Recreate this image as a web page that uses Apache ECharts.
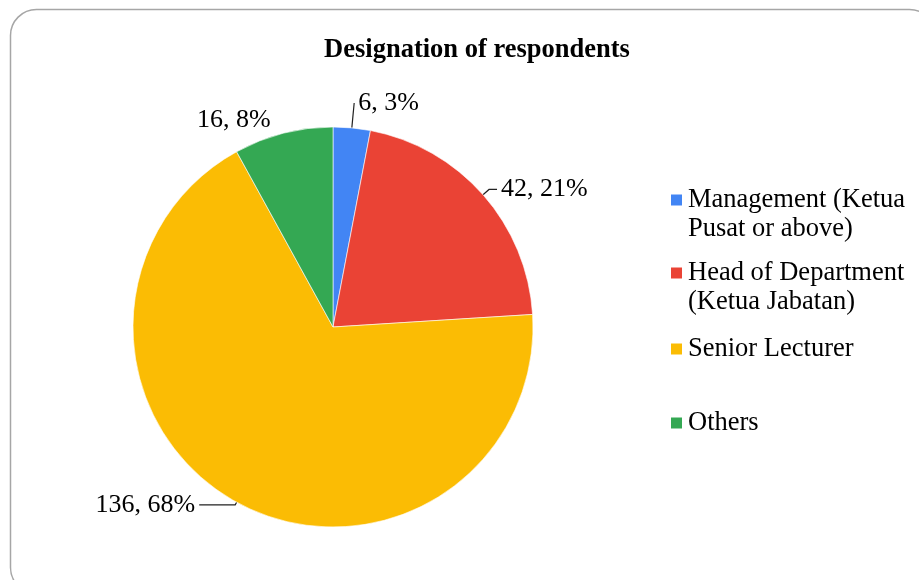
<!DOCTYPE html>
<html>
<head>
<meta charset="utf-8">
<script src="https://cdn.jsdelivr.net/npm/echarts@6/dist/echarts.min.js"></script>
<style>html,body{margin:0;padding:0;background:#fff;}#c{width:919px;height:580px;}</style>
</head>
<body>
<div id="c"></div>
<script>
const titleText = 'Designation of respondents';
const categories = ['Management (Ketua Pusat or above)', 'Head of Department (Ketua Jabatan)', 'Senior Lecturer', 'Others'];
const legendLabels = ['Management (Ketua\nPusat or above)', 'Head of Department\n(Ketua Jabatan)', 'Senior Lecturer', 'Others'];
const values = [6, 42, 136, 16];
const colors = ['#4285F4', '#EA4335', '#FBBC04', '#34A853'];

// label leader styling per slice (layout only)
const lineLen = [25, 8, 3, 14];
const lineLen2 = [0, 8, 36, 5];
const lineShow = [true, true, true, false];
const labelPadBottom = [18, 8, 12, 6];
const legendTops = [156.5, 229.5, 334.5, 408.5];

const FONT = 'Liberation Serif';
const chart = echarts.init(document.getElementById('c'), null, {renderer: 'canvas'});

const data = categories.map((name, i) => ({
  name: name,
  value: values[i],
  itemStyle: {color: colors[i]},
  label: {padding: [0, 0, labelPadBottom[i], 0]},
  labelLine: {show: lineShow[i], length: lineLen[i], length2: lineLen2[i]}
}));

const legends = categories.map((name, i) => ({
  data: [name],
  orient: 'vertical',
  left: 669,
  top: legendTops[i],
  padding: 0,
  icon: 'rect',
  itemWidth: 13,
  itemHeight: 13,
  selectedMode: false,
  formatter: function (n) {
    const t = legendLabels[categories.indexOf(n)];
    return t.indexOf('\n') >= 0 ? '\n' + t : t;
  },
  textStyle: {fontFamily: FONT, fontSize: 26.5, lineHeight: 29, color: '#000'}
}));

chart.setOption({
  backgroundColor: '#fff',
  animation: false,
  title: {
    text: titleText,
    left: 472,
    textAlign: 'center',
    top: 32,
    textStyle: {fontFamily: FONT, fontSize: 26.5, fontWeight: 'bold', color: '#000'}
  },
  legend: legends,
  graphic: [{
    type: 'rect',
    shape: {x: 10.5, y: 9.5, width: 925, height: 584, r: 26},
    style: {fill: null, stroke: '#a6a6a6', lineWidth: 1.5},
    silent: true,
    z: -1
  }],
  series: [{
    type: 'pie',
    center: [333, 327],
    radius: 200,
    startAngle: 90,
    clockwise: true,
    avoidLabelOverlap: false,
    percentPrecision: 0,
    itemStyle: {borderColor: '#fff', borderWidth: 0.6},
    label: {
      show: true,
      position: 'outside',
      formatter: '{c}, {d}%',
      fontFamily: FONT,
      fontSize: 26,
      color: '#000',
      distanceToLabelLine: 4
    },
    labelLine: {
      lineStyle: {color: '#222', width: 1.2}
    },
    data: data
  }]
});
</script>
</body>
</html>
